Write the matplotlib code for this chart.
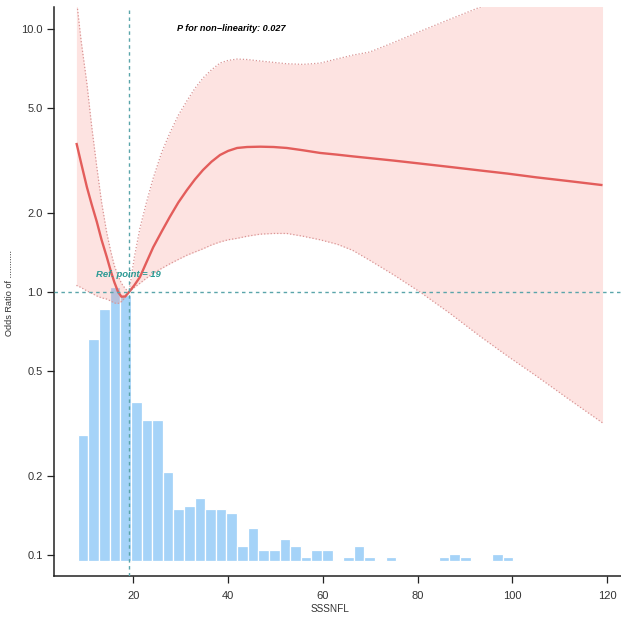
import matplotlib
matplotlib.use("Agg")
import matplotlib.pyplot as plt
import numpy as np

# ---------------- data ----------------
ref_point = 19
x_vals = [8, 9, 10.2, 11.2, 12.3, 13.3, 14.4, 15.2, 16.0, 16.8, 17.5, 18.3, 19.1, 20.2,
          21.4, 22.8, 24.2, 26.0, 27.7, 29.5, 31.3, 33.0, 34.7, 36.5, 38.3, 40.0,
          41.9, 44.0, 46.8, 49.6, 52.4, 55.8, 59.4, 63.0, 66.3, 69.9, 75.0, 80.5,
          86.8, 93.1, 99.0, 105, 112, 119]
or_vals = [3.69, 3.09, 2.51, 2.16, 1.85, 1.58, 1.36, 1.21, 1.09, 1.0, 0.96, 0.962, 1.0, 1.06,
           1.14, 1.30, 1.48, 1.70, 1.93, 2.19, 2.44, 2.68, 2.91, 3.13, 3.32, 3.44,
           3.53, 3.56, 3.57, 3.56, 3.53, 3.46, 3.38, 3.33, 3.28, 3.23, 3.16, 3.08,
           2.99, 2.90, 2.82, 2.73, 2.64, 2.55]
upper_vals = [13.0, 9.0, 6.23, 4.3, 2.99, 2.2, 1.68, 1.44, 1.26, 1.15, 1.08, 1.03, 1.0, 1.35,
              1.75, 2.2, 2.71, 3.4, 4.02, 4.7, 5.33, 5.95, 6.51, 7.0, 7.43, 7.6,
              7.69, 7.66, 7.56, 7.47, 7.38, 7.34, 7.42, 7.7, 7.96, 8.18, 8.9, 9.8,
              10.9, 12.1, 13.4, 14.8, 18.0, 22.6]
lower_vals = [1.06, 1.04, 1.01, 0.99, 0.966, 0.95, 0.94, 0.925, 0.908, 0.905, 0.92, 0.955, 1.0, 1.04,
              1.08, 1.13, 1.18, 1.23, 1.28, 1.33, 1.38, 1.42, 1.46, 1.51, 1.55, 1.58,
              1.60, 1.63, 1.66, 1.67, 1.67, 1.63, 1.58, 1.52, 1.44, 1.32, 1.16, 1.0,
              0.83, 0.68, 0.57, 0.48, 0.39, 0.318]

hist_start = 8.3
hist_width = 2.24
hist_counts = [34, 60, 68, 74, 72, 43, 38, 38, 24, 14, 15, 17, 14, 14, 13, 4, 9, 3, 3, 6,
               4, 1, 3, 3, 0, 1, 4, 1, 0, 1, 0, 0, 0, 0, 1, 2, 1, 0, 0, 2, 1]

y_ticks = [0.1, 0.2, 0.5, 1.0, 2.0, 5.0, 10.0]
y_ticklabels = ["0.1", "0.2", "0.5", "1.0", "2.0", "5.0", "10.0"]
x_ticks = [20, 40, 60, 80, 100, 120]
x_label = "SSSNFL"
y_label = "Odds Ratio of ..........."
p_text = "P for non\u2212linearity: 0.027"
ref_text = "Ref. point = 19"

# ---------------- style ----------------
plt.rcParams['font.family'] = ['Liberation Sans', 'DejaVu Sans']
W = H = 621
fig = plt.figure(figsize=(W / 100, H / 100), dpi=100)
fig.patch.set_facecolor('white')
pos = [54 / W, 45 / H, (W - 54) / W, (576 - 7) / H]

xlim = (3.27, 122.9)
ylim = (0.0832, 12.13)

# histogram axis (underneath)
axh = fig.add_axes(pos)
axh.set_xlim(*xlim)
px_per_count = 3.7
axh.set_ylim(-(576 - 561) / px_per_count, (561 - 7) / px_per_count)
left_edges = [hist_start + i * hist_width for i in range(len(hist_counts))]
axh.bar(left_edges, hist_counts, width=hist_width, align='edge',
        color='#A5D3F8', edgecolor='white', linewidth=0.9)
axh.axis('off')

# main axis
ax = fig.add_axes(pos)
ax.set_facecolor('none')
ax.set_yscale('log')
ax.set_xlim(*xlim)
ax.set_ylim(*ylim)

ax.fill_between(x_vals, lower_vals, upper_vals, color='#F8766D', alpha=0.2,
                linewidth=0, zorder=2)
ax.plot(x_vals, upper_vals, color='#D99494', linestyle=(0, (1, 1.6)), lw=0.9, zorder=3)
ax.plot(x_vals, lower_vals, color='#D99494', linestyle=(0, (1, 1.6)), lw=0.9, zorder=3)
ax.plot(x_vals, or_vals, color='#E35D5B', lw=1.7, zorder=4, solid_capstyle='butt',
        solid_joinstyle='round')

ax.axhline(1.0, color='#5AA5AA', lw=1.0, linestyle=(0, (2.5, 2.5)), zorder=5)
ax.axvline(ref_point, color='#5AA5AA', lw=1.0, linestyle=(0, (2.5, 2.5)), zorder=5)

ax.text(ref_point, 1.17, ref_text, ha='center', va='center', color='#2B9A94',
        fontsize=6.8, fontweight='bold', fontstyle='italic', zorder=6)
ax.text(29.2, 10.09, p_text, ha='left', va='center', color='black',
        fontsize=6.6, fontweight='bold', fontstyle='italic', zorder=6)

ax.set_yticks(y_ticks)
ax.set_yticklabels(y_ticklabels)
ax.yaxis.set_minor_locator(matplotlib.ticker.NullLocator())
ax.set_xticks(x_ticks)
ax.set_xticklabels([str(t) for t in x_ticks])

for s in ['top', 'right']:
    ax.spines[s].set_visible(False)
for s in ['left', 'bottom']:
    ax.spines[s].set_linewidth(1.1)
    ax.spines[s].set_color('#222222')
ax.tick_params(axis='both', direction='out', length=5, width=0.9, color='#222222',
               labelsize=8, labelcolor='#333333', pad=3)
ax.tick_params(axis='x', pad=6)

fig.text(330 / W, 1 - 609 / H, x_label, ha='center', va='center', fontsize=7.2, color='#333333')
fig.text(10 / W, 1 - 293 / H, y_label, ha='center', va='center', rotation=90,
         fontsize=6.6, color='#333333')

fig.savefig('out.png', dpi=100, facecolor='white')
